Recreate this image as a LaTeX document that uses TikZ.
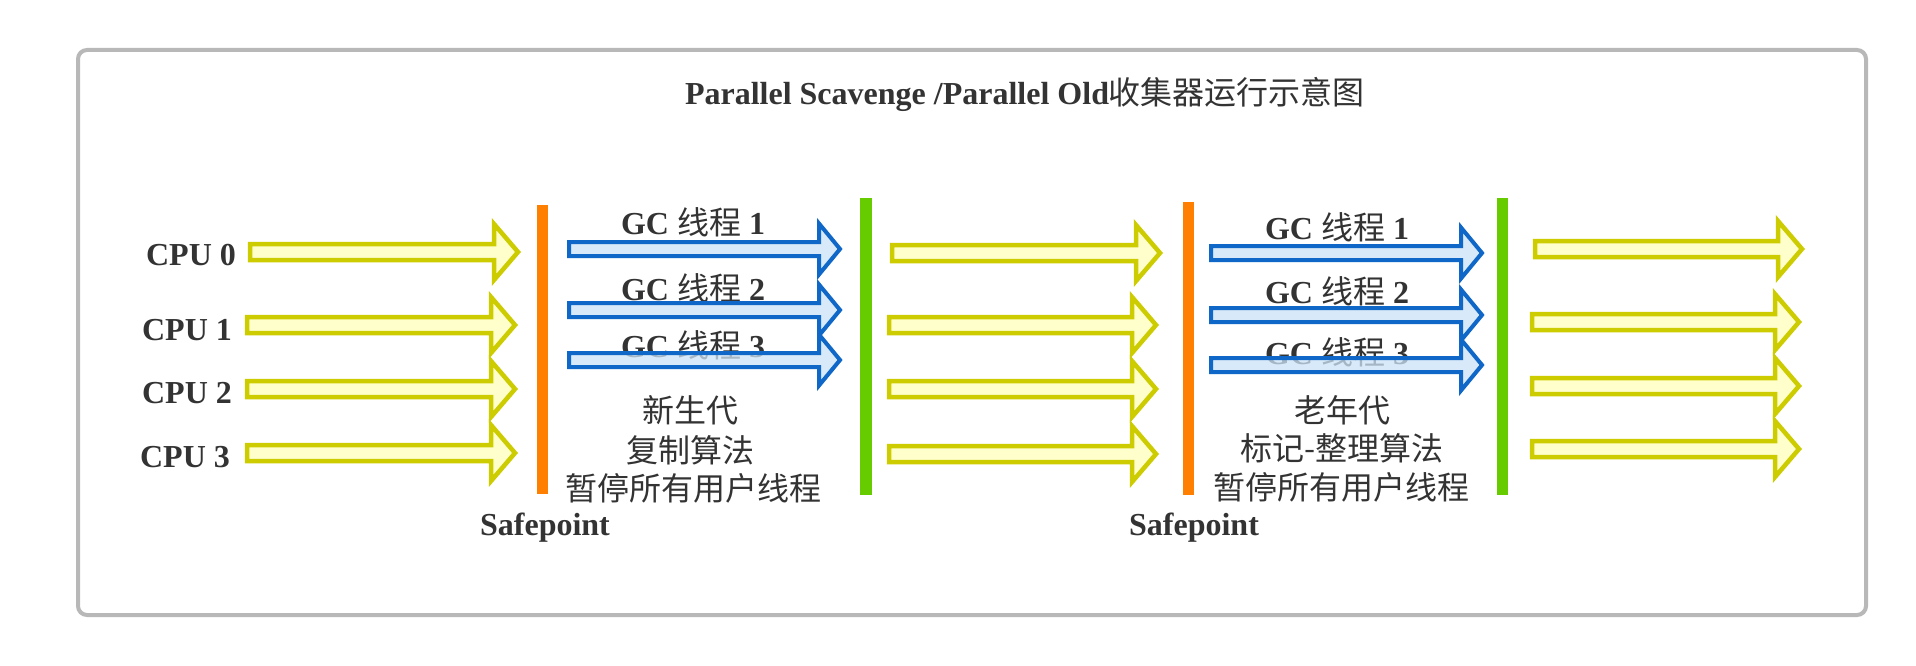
\documentclass[tikz,border=0pt]{standalone}
\usepackage{fontspec}
\setmainfont{Liberation Serif}
\newfontfamily\cjk{Noto Sans CJK SC}
\definecolor{ystroke}{HTML}{CCCC00}
\definecolor{yfill}{HTML}{FFFFCC}
\definecolor{bstroke}{HTML}{0F67C8}
\definecolor{bfill}{HTML}{CCE2F7}
\definecolor{orangebar}{HTML}{FF8000}
\definecolor{greenbar}{HTML}{66CC00}
\definecolor{framegray}{HTML}{B8B8B8}
\definecolor{txt}{HTML}{333333}
\newcommand{\yellowshape}[3]{%
  \draw[yellowarr] (#1,#3-8) -- (#2-24,#3-8) -- (#2-24,#3-28) -- (#2,#3)
    -- (#2-24,#3+28) -- (#2-24,#3+8) -- (#1,#3+8) -- cycle;}
\newcommand{\blueshape}[3]{%
  \draw[bluearr] (#1,#3-7) -- (#2-21,#3-7) -- (#2-21,#3-25.5) -- (#2,#3)
    -- (#2-21,#3+25.5) -- (#2-21,#3+7) -- (#1,#3+7) -- cycle;}
\newcommand{\gclabel}[1]{{\bfseries GC} {\cjk 线程} {\bfseries #1}}
\begin{document}
\begin{tikzpicture}[x=1pt,y=-1pt,
  yellowarr/.style={draw=ystroke,fill=yfill,line width=4.5pt,line join=miter},
  bluearr/.style={draw=bstroke,fill=bfill,fill opacity=0.75,line width=4pt,line join=miter},
  lbl/.style={text=txt,inner sep=0pt,font=\fontsize{32}{38}\selectfont\bfseries},
  cjklbl/.style={text=txt,inner sep=0pt,font=\fontsize{32}{38}\selectfont\cjk},
  gclbl/.style={text=txt,inner sep=0pt,font=\fontsize{32}{38}\selectfont}]
\useasboundingbox (0,0) rectangle (1916,666);
\fill[white] (0,0) rectangle (1916,666);
% frame
\draw[framegray,line width=4pt,rounded corners=9pt] (78,50) rectangle (1866,615);
% title
\node[lbl] (title) at (1025,94) {Parallel Scavenge /Parallel Old{\mdseries\cjk 收集器运行示意图}};
% CPU labels
\node[lbl] (cpu0) at (191,255) {CPU 0};
\node[lbl] (cpu1) at (187,330) {CPU 1};
\node[lbl] (cpu2) at (187,393) {CPU 2};
\node[lbl] (cpu3) at (185,457) {CPU 3};
% yellow arrows, group A
\yellowshape{250}{518}{252}
\yellowshape{247}{515}{325}
\yellowshape{247}{515}{389}
\yellowshape{247}{515}{453}
% yellow arrows, group B
\yellowshape{892}{1160}{253}
\yellowshape{889}{1156}{325}
\yellowshape{889}{1156}{389}
\yellowshape{889}{1156}{454}
% yellow arrows, group C
\yellowshape{1535}{1802}{249}
\yellowshape{1532}{1799}{322}
\yellowshape{1532}{1799}{386}
\yellowshape{1532}{1799}{449}
% bars
\fill[orangebar] (537,205) rectangle (548,494);
\fill[greenbar] (860,198) rectangle (872,495);
\fill[orangebar] (1183,202) rectangle (1194,495);
\fill[greenbar] (1497,198) rectangle (1508,495);
% GC labels group 1
\node[gclbl] (g1a) at (693,222) {\gclabel{1}};
\node[gclbl] (g1b) at (693,288) {\gclabel{2}};
\node[gclbl] (g1c) at (693,345) {\gclabel{3}};
% GC labels group 2
\node[gclbl] (g2a) at (1337,227) {\gclabel{1}};
\node[gclbl] (g2b) at (1337,291) {\gclabel{2}};
\node[gclbl] (g2c) at (1337,352) {\gclabel{3}};
% blue arrows
\blueshape{569}{840}{249}
\blueshape{569}{840}{310}
\blueshape{569}{840}{360}
\blueshape{1211}{1482}{253}
\blueshape{1211}{1482}{315}
\blueshape{1211}{1482}{365}
% descriptions
\node[cjklbl] (y1) at (690,410) {新生代};
\node[cjklbl] (y2) at (690,450) {复制算法};
\node[cjklbl] (y3) at (693,488) {暂停所有用户线程};
\node[cjklbl] (o1) at (1342,410) {老年代};
\node[cjklbl] (o2) at (1342,448) {标记-整理算法};
\node[cjklbl] (o3) at (1341,487) {暂停所有用户线程};
% safepoints
\node[lbl] (sp1) at (545,528) {Safepoint};
\node[lbl] (sp2) at (1194,528) {Safepoint};
\end{tikzpicture}
\end{document}
